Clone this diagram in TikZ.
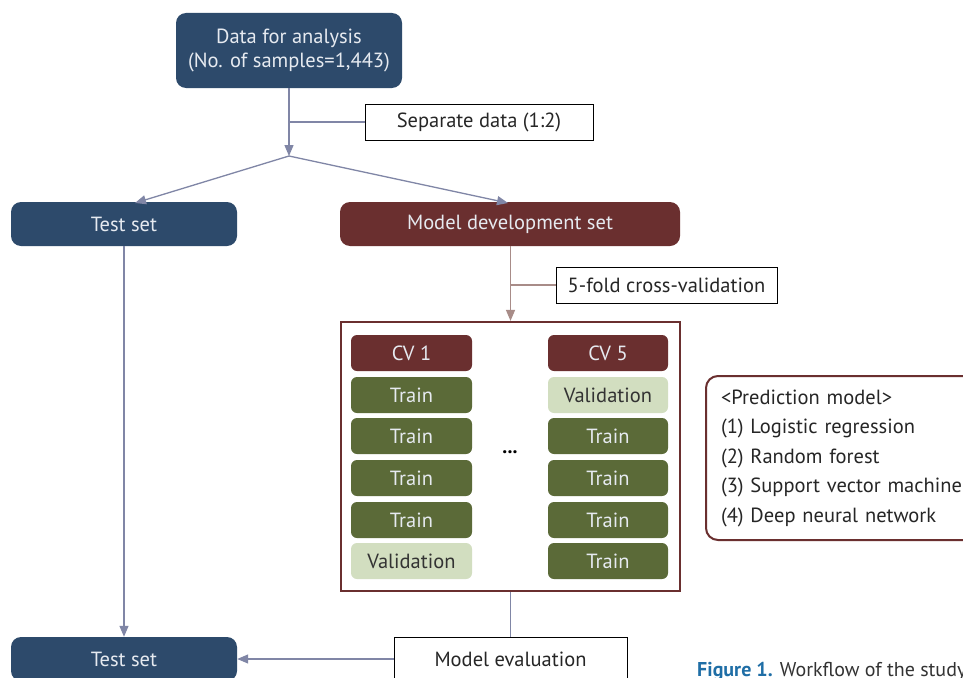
\documentclass[tikz,border=0pt]{standalone}
\usepackage{fontspec}
\setmainfont{PT Sans}
\usetikzlibrary{arrows.meta}
\definecolor{navy}{HTML}{2D4A6B}
\definecolor{maroon}{HTML}{6A2F2F}
\definecolor{olive}{HTML}{5B6A38}
\definecolor{lightg}{HTML}{D2DEC0}
\definecolor{lineblue}{HTML}{8086A6}
\definecolor{linebrown}{HTML}{A88C88}
\definecolor{capblue}{HTML}{1F6EA6}
\definecolor{boxtext}{HTML}{E6EAF0}
\begin{document}
\begin{tikzpicture}[x=1pt,y=-1pt,
  every node/.style={inner sep=0pt},
  fnt/.style={font=\fontsize{20.5}{23}\selectfont},
  rbox/.style={fnt, rounded corners=10pt, text=boxtext, align=center},
  bluebox/.style={rbox, fill=navy},
  redbox/.style={rbox, fill=maroon},
  labbox/.style={fnt, draw=black, line width=1pt, fill=white, text=black!85},
  cell/.style={fnt, rounded corners=6pt, minimum height=36pt, text=boxtext},
  cvhead/.style={cell, fill=maroon},
  trainc/.style={cell, fill=olive},
  valc/.style={cell, fill=lightg, text=black!80},
  conn/.style={line width=1.3pt, draw=lineblue},
  connb/.style={line width=1.3pt, draw=linebrown},
  tip/.style={-{Triangle[length=11pt,width=9pt]}}
]
\clip (0,0) rectangle (963,677);
\fill[white] (0,0) rectangle (963,677);

% top box
\node[bluebox, minimum width=226pt, minimum height=75pt] (data) at (289,50.5)
  {Data for analysis\\[1pt](No. of samples=1,443)};
\node[labbox, minimum width=228pt, minimum height=36pt] (sep) at (479,122) {Separate data (1:2)};
\coordinate (split) at (289,156);
\coordinate (sepj) at (289,122);
\draw[conn,tip] (data.south) -- (split);
\draw[conn] (sepj) -- (sep.west);

% second row
\node[bluebox, minimum width=226pt, minimum height=44pt] (test1) at (124,224) {Test set};
\node[redbox, minimum width=340pt, minimum height=44pt] (dev) at (510,224) {Model development set};
\coordinate (t1in) at (135,203);
\coordinate (devin) at (508,203);
\draw[conn,tip] (split) -- (t1in);
\draw[conn,tip] (split) -- (devin);

% 5-fold
\node[labbox, minimum width=221pt, minimum height=36pt] (fold) at (666.5,285) {5-fold cross-validation};
\coordinate (foldj) at (510,285);
\node[draw=maroon, line width=2.2pt, minimum width=339pt, minimum height=269pt] (cvbox) at (510.5,456.5) {};
\draw[connb,tip] (dev.south -| cvbox.north) -- (cvbox.north);
\draw[connb] (foldj) -- (fold.west);

% CV cells
\node[cvhead, minimum width=121pt] (cva) at (411.5,353) {CV 1};
\node[trainc, minimum width=121pt] (a1) at (411.5,395) {Train};
\node[trainc, minimum width=121pt] (a2) at (411.5,436) {Train};
\node[trainc, minimum width=121pt] (a3) at (411.5,478) {Train};
\node[trainc, minimum width=121pt] (a4) at (411.5,520) {Train};
\node[valc, minimum width=121pt] (a5) at (411.5,561) {Validation};
\node[cvhead, minimum width=120pt] (cvb) at (608,353) {CV 5};
\node[valc, minimum width=120pt] (b1) at (608,395) {Validation};
\node[trainc, minimum width=120pt] (b2) at (608,436) {Train};
\node[trainc, minimum width=120pt] (b3) at (608,478) {Train};
\node[trainc, minimum width=120pt] (b4) at (608,520) {Train};
\node[trainc, minimum width=120pt] (b5) at (608,561) {Train};
\node[font=\fontsize{20}{22}\selectfont\bfseries] (dots) at (510,452) {...};

% prediction model
\node[draw=maroon, line width=2pt, rounded corners=12pt, anchor=west,
      minimum width=272pt, minimum height=164pt, text width=242pt, inner xsep=15pt,
      align=left, text=black!85, font=\fontsize{20.5}{29.5}\selectfont] (pred) at (705,458)
  {<Prediction model>\\(1) Logistic regression\\(2) Random forest\\(3) Support vector machine\\(4) Deep neural network};

% bottom row
\node[bluebox, minimum width=226pt, minimum height=44pt] (test2) at (124,659) {Test set};
\node[labbox, minimum width=233pt, minimum height=44pt] (eval) at (510.5,659) {Model evaluation};
\draw[conn,tip] (test1.south) -- (test2.north);
\draw[conn] (cvbox.south) -- (cvbox.south |- eval.north);
\draw[conn,tip] (eval.west) -- (test2.east);

\node[anchor=base west, font=\fontsize{20}{22}\selectfont, text=black!80] (cap) at (697,676)
  {{\bfseries\color{capblue}Figure 1.} Workflow of the study.};
\end{tikzpicture}
\end{document}
